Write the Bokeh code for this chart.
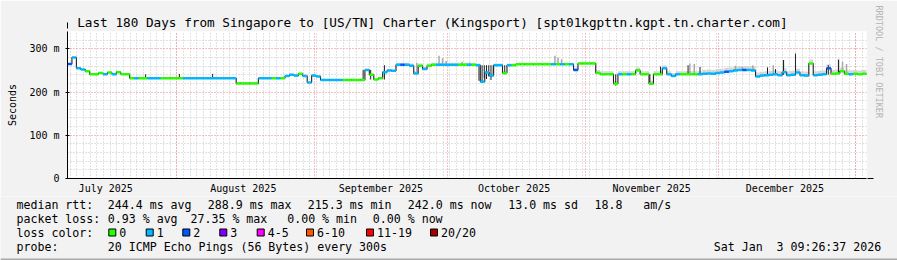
import math
from datetime import datetime, timezone
from bokeh.plotting import figure
from bokeh.layouts import column
from bokeh.models import Range1d, FixedTicker, Grid, Title, Arrow, NormalHead
from bokeh.core.properties import value
from bokeh.embed import file_html
from bokeh.resources import INLINE

FONT = "DejaVu Sans Mono"

# ---------------- data ----------------
START = datetime(2025, 7, 7, 9, 26, 37)
END = datetime(2026, 1, 3, 9, 26, 37)

month_starts = [datetime(2025, 8, 1), datetime(2025, 9, 1), datetime(2025, 10, 1),
                datetime(2025, 11, 1), datetime(2025, 12, 1), datetime(2026, 1, 1)]
month_label_dates = [datetime(2025, 7, 16), datetime(2025, 8, 16), datetime(2025, 9, 16),
                     datetime(2025, 10, 16), datetime(2025, 11, 16), datetime(2025, 12, 16)]
month_labels = ["July 2025", "August 2025", "September 2025", "October 2025",
                "November 2025", "December 2025"]

y_ticks = [0, 100, 200, 300]
y_tick_labels = ["0", "100 m", "200 m", "300 m"]
y_minor = [20, 40, 60, 80, 120, 140, 160, 180, 220, 240, 260, 280, 320]

# median rtt (ms), one value per day from START
median = [
    265, 280, 255, 252, 248, 241, 241, 244, 241, 245,
    241, 246, 241, 241, 232, 232, 232, 232, 232, 232,
    232, 232, 232, 232, 232, 232, 232, 232, 232, 232,
    232, 232, 232, 232, 232, 232, 232, 232, 220, 220,
    220, 220, 220, 232, 232, 232, 232, 232, 232, 237,
    240, 238, 242, 237, 222, 238, 236, 228, 228, 228,
    228, 228, 228, 228, 228, 228, 228, 251, 240, 229,
    232, 246, 250, 249, 263, 263, 263, 261, 243, 261,
    253, 261, 263, 263, 263, 263, 263, 263, 263, 263,
    263, 263, 262, 224, 245, 238, 262, 262, 244, 262,
    262, 264, 264, 264, 264, 264, 264, 264, 264, 264,
    264, 264, 264, 264, 251, 266, 266, 266, 266, 244,
    241, 241, 241, 219, 241, 241, 241, 241, 250, 241,
    241, 219, 241, 241, 255, 241, 237, 241, 241, 241,
    241, 241, 241, 242, 243, 242, 244, 245, 247, 248,
    250, 251, 251, 251, 250, 236, 238, 239, 240, 241,
    239, 246, 239, 240, 245, 239, 238, 266, 239, 240,
    241, 255, 242, 243, 248, 242, 241, 242, 241, 242,
    242,
]

# loss class per day (index into loss_colors)
loss = [
    2, 1, 1, 1, 0, 0, 0, 0, 1, 0,
    1, 0, 0, 0, 0, 1, 0, 0, 1, 1,
    1, 0, 0, 0, 0, 0, 1, 1, 1, 1,
    1, 1, 1, 1, 1, 1, 1, 1, 0, 0,
    0, 0, 0, 1, 1, 1, 0, 1, 0, 1,
    1, 1, 0, 1, 1, 1, 1, 1, 1, 1,
    1, 1, 0, 0, 0, 0, 0, 1, 0, 0,
    0, 1, 1, 1, 1, 2, 1, 1, 1, 0,
    1, 0, 0, 1, 1, 1, 1, 1, 0, 0,
    1, 0, 1, 1, 1, 1, 1, 1, 0, 1,
    0, 0, 0, 0, 0, 0, 0, 0, 0, 1,
    0, 1, 0, 1, 2, 0, 0, 0, 0, 0,
    0, 0, 0, 0, 1, 0, 1, 0, 0, 0,
    0, 0, 0, 0, 1, 1, 1, 1, 0, 0,
    0, 0, 1, 1, 1, 1, 1, 1, 2, 1,
    1, 1, 2, 1, 1, 1, 1, 1, 1, 1,
    1, 1, 1, 1, 1, 1, 1, 0, 1, 1,
    1, 2, 0, 0, 0, 0, 1, 0, 0, 0,
    0,
]

loss_colors = ["#26ff00", "#00b8ff", "#0059ff", "#7e00ff", "#ff00ff", "#ff5500", "#ff0000", "#a10000"]
loss_names = ["0", "1", "2", "3", "4-5", "6-10", "11-19", "20/20"]

# light smoke spread above median: (from day, to day, ms)
smoke_spread = [(0, 74, 2), (74, 92, 5), (92, 119, 4), (119, 143, 7), (143, 181, 9)]

# light gray smoke spikes (day, top ms)
gray_spike_day = [78.7, 83.7, 84.5, 85.3, 88.9, 89.8, 90.6, 109.8, 110.5, 111.3,
                  140.2, 141.2, 150.5, 152.0, 154.4, 159.0, 161.3, 173.7, 174.6, 175.5]
gray_spike_top = [268, 284, 278, 272, 270, 266, 268, 284, 280, 276,
                  266, 265, 261, 258, 262, 262, 274, 277, 270, 265]

# dark smoke spikes (day, low ms, high ms)
dark_spike_day = [17.6, 25.2, 32.7, 66.6, 68.3, 71.4, 92.7, 93.4, 93.9, 94.4, 94.9, 95.4, 95.9,
                  98.5, 123.5, 131.2, 133.6, 139.8, 142.5, 157.7, 159.5, 161.3, 164.0, 171.4, 173.7]
dark_spike_lo = [232, 232, 232, 228, 229, 229, 226, 222, 232, 230, 236, 228, 240,
                 241, 215, 217, 241, 241, 241, 240, 240, 240, 240, 240, 242]
dark_spike_hi = [241, 242, 242, 251, 251, 262, 262, 262, 262, 262, 262, 262, 262,
                 262, 241, 241, 259, 262, 258, 257, 253, 274, 289, 262, 274]

title_text = "Last 180 Days from Singapore to [US/TN] Charter (Kingsport) [spt01kgpttn.kgpt.tn.charter.com]"
credit_text = "RRDTOOL / TOBI OETIKER"

legend_rows = [
    ["median rtt:", "244.4 ms avg", "288.9 ms max", "215.3 ms min", "242.0 ms now", "13.0 ms sd", "18.8", "am/s"],
    ["packet loss:", "0.93 % avg", "27.35 % max", "0.00 % min", "0.00 % now"],
    ["loss color:"],
    ["probe:", "20 ICMP Echo Pings (56 Bytes) every 300s", "Sat Jan", "3 09:26:37 2026"],
]

# ---------------- helpers ----------------
DAY_MS = 86400000.0
YMAX = 340


def ms(d):
    return d.replace(tzinfo=timezone.utc).timestamp() * 1000.0


start_ms = ms(START)
end_ms = ms(END)


def day_ms(d):
    return start_ms + d * DAY_MS


W = 897
H_MAIN, H_LEG = 196, 64
FL, FR, FT, FB = 67, 866, 31, 178
BG = "#f2f2f2"

p = figure(width=W, height=H_MAIN, output_backend="svg", toolbar_location=None,
           x_axis_type="datetime", x_range=Range1d(start_ms, end_ms), y_range=Range1d(0, YMAX),
           min_border_left=FL, min_border_right=W - FR, min_border_top=FT, min_border_bottom=H_MAIN - FB,
           background_fill_color="white", border_fill_color=BG)
p.frame_align = False
p.outline_line_color = None
p.xgrid.visible = False
p.ygrid.visible = False

# title
p.title.text = title_text
p.title.align = "left"
p.title.offset = 9.7
p.title.standoff = 4
p.title.text_font = FONT
p.title.text_font_size = "12.7px"
p.title.text_font_style = "normal"
p.title.text_color = "black"

# credit text on the right edge
p.add_layout(Title(text=credit_text, align="left", offset=-26, standoff=15, text_font=FONT,
                   text_font_size="8.5px", text_font_style="normal", text_color="#b4b4b4"), "right")

# grids
minor_x = []
t = math.ceil(start_ms / (36 * 3600000.0)) * 36 * 3600000.0
while t < end_ms:
    minor_x.append(t)
    t += 36 * 3600000.0
xg = Grid(dimension=0, ticker=FixedTicker(ticks=[ms(d) for d in month_starts], minor_ticks=minor_x),
          grid_line_color="#f08080", grid_line_dash="1 2", grid_line_width=1,
          minor_grid_line_color="#c4c4c4", minor_grid_line_dash="1 2", minor_grid_line_width=1)
yg = Grid(dimension=1, ticker=FixedTicker(ticks=y_ticks, minor_ticks=y_minor),
          grid_line_color="#f08080", grid_line_dash="1 2", grid_line_width=1,
          minor_grid_line_color="#c4c4c4", minor_grid_line_dash="1 2", minor_grid_line_width=1)
p.add_layout(xg)
p.add_layout(yg)

# axes
xa = p.xaxis[0]
label_ms = [float(ms(d)) for d in month_label_dates]
xa.ticker = FixedTicker(ticks=label_ms)
xa.major_label_overrides = {k: v for k, v in zip(label_ms, month_labels)}
xa.axis_line_color = "black"
xa.major_tick_line_color = None
xa.major_tick_in = 0
xa.major_tick_out = 0
xa.minor_tick_line_color = None
xa.major_label_standoff = 4
xa.major_label_text_font = FONT
xa.major_label_text_font_size = "10px"
xa.major_label_text_color = "black"

ya = p.yaxis[0]
ya.ticker = FixedTicker(ticks=y_ticks)
ya.major_label_overrides = {k: v for k, v in zip(y_ticks, y_tick_labels)}
ya.axis_line_color = "black"
ya.major_tick_line_color = "black"
ya.major_tick_in = 2
ya.major_tick_out = 2
ya.minor_tick_line_color = None
ya.major_label_standoff = 6
ya.major_label_text_font = FONT
ya.major_label_text_font_size = "10px"
ya.major_label_text_color = "black"
ya.axis_label = "Seconds"
ya.axis_label_text_font = FONT
ya.axis_label_text_font_size = "10px"
ya.axis_label_text_font_style = "normal"
ya.axis_label_text_color = "black"
ya.axis_label_standoff = 8

# ---------------- glyphs ----------------
n = len(median)
lefts = [day_ms(i) for i in range(n)]
rights = [day_ms(i + 1) for i in range(n)]
spread = [next(s for (a, b, s) in smoke_spread if a <= i < b) for i in range(n)]
tops = [m + s for m, s in zip(median, spread)]
p.quad(left=lefts, right=rights, bottom=[m - 1 for m in median], top=tops,
       fill_color="#d6d6d6", line_color=None)

gx = [day_ms(d) for d in gray_spike_day]
p.segment(x0=gx, x1=gx, y0=[median[int(d)] for d in gray_spike_day], y1=gray_spike_top,
          line_color="#a8a8a8", line_width=1.5)

dx = [day_ms(d) for d in dark_spike_day]
p.segment(x0=dx, x1=dx, y0=dark_spike_lo, y1=dark_spike_hi, line_color="#202020", line_width=1)

p.step(x=lefts + [rights[-1]], y=median + [median[-1]], mode="after", line_color="#202020", line_width=1.1)

p.segment(x0=lefts, x1=rights, y0=median, y1=median,
          line_color=[loss_colors[i] for i in loss], line_width=2.5)

# axis arrow heads
px_per_ms = (FR - FL) / (end_ms - start_ms)
px_per_val = (FB - FT) / YMAX
p.add_layout(Arrow(x_start=end_ms, y_start=0, x_end=end_ms + 7 / px_per_ms, y_end=0,
                   line_color="black", line_width=1,
                   end=NormalHead(size=6, fill_color="#a00000", line_color="#a00000")))
p.add_layout(Arrow(x_start=start_ms, y_start=YMAX, x_end=start_ms, y_end=YMAX + 9 / px_per_val,
                   line_color="black", line_width=1,
                   end=NormalHead(size=6, fill_color="#a00000", line_color="#a00000")))

# ---------------- legend panel (below the plot) ----------------
q = figure(width=W, height=H_LEG, output_backend="svg", toolbar_location=None,
           x_range=Range1d(0, W), y_range=Range1d(H_MAIN + H_LEG, H_MAIN),
           x_axis_location=None, y_axis_location=None,
           min_border=0, min_border_left=0, min_border_right=0, min_border_top=0, min_border_bottom=0,
           background_fill_color=BG, border_fill_color=BG)
q.frame_align = False
q.grid.visible = False
q.outline_line_color = None

row_y = [204, 218, 232, 246]
row_x = [
    [16, 107.3, 207.3, 307.3, 407.3, 507.7, 594, 642.7],
    [16, 107.3, 190, 286.7, 372.3],
    [16],
    [16, 107.3, 713.3, 776],
]
tx, ty, tt = [], [], []
for y, xs, texts in zip(row_y, row_x, legend_rows):
    for x, s in zip(xs, texts):
        tx.append(x)
        ty.append(y)
        tt.append(s)

box_left = [108.3, 145.7, 182.3, 219.3, 256.7, 306, 366, 430]
for bl, name in zip(box_left, loss_names):
    tx.append(bl + 10.5)
    ty.append(232)
    tt.append(name)

q.text(x=tx, y=ty, text=tt, text_font=value(FONT), text_font_size=value("11.6px"),
       text_baseline=value("middle"), text_align=value("left"), text_color="black")
q.quad(left=box_left, right=[b + 7 for b in box_left], top=[228.5] * len(box_left),
       bottom=[235.5] * len(box_left), fill_color=loss_colors, line_color="black", line_width=1)
# bottom shading edge
q.quad(left=[0], right=[W], top=[258], bottom=[260], fill_color="#a8a8a8", line_color=None)

layout = column(p, q, spacing=0)
open("out.html", "w").write(file_html(layout, INLINE))
